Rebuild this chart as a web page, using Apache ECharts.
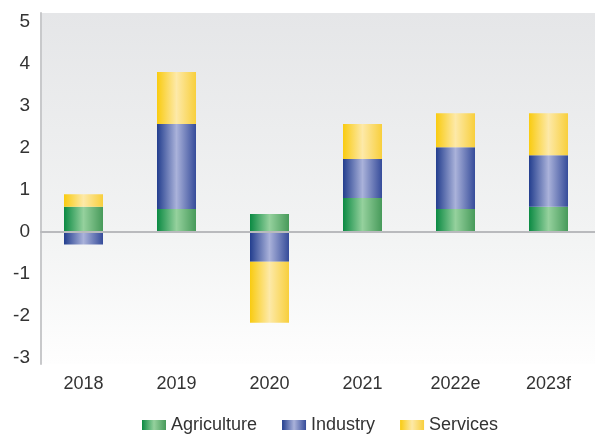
<!DOCTYPE html>
<html>
<head>
<meta charset="utf-8">
<script src="https://cdn.jsdelivr.net/npm/echarts@6/dist/echarts.min.js"></script>
<style>
  html, body { margin: 0; padding: 0; background: #ffffff; }
  #chart { width: 595px; height: 434px; }
</style>
</head>
<body>
<div id="chart"></div>
<script>
// Contribution to growth by sector, percentage points
const years = ['2018', '2019', '2020', '2021', '2022e', '2023f'];
const agriculture = [0.60, 0.55, 0.43, 0.81, 0.55, 0.60];
const industry    = [-0.30, 2.02, -0.71, 0.93, 1.47, 1.23];
const services    = [0.30, 1.24, -1.45, 0.83, 0.81, 1.00];
const yTicks = [-3, -2, -1, 0, 1, 2, 3, 4, 5];

const yMin = -3.143;
const yMax = 5.214;
const FONT = "'Liberation Sans', Arial, sans-serif";
const TEXT = '#333333';

function shade(dark, light, mid) {
  return {
    type: 'linear', x: 0, y: 0, x2: 1, y2: 0,
    colorStops: [
      { offset: 0, color: dark },
      { offset: 0.5, color: light },
      { offset: 1, color: mid }
    ]
  };
}

const palette = {
  Agriculture: shade('#0b8a43', '#95d19d', '#479a5a'),
  Industry: shade('#233e8e', '#aab2da', '#364c9a'),
  Services: shade('#f9cb10', '#fde9a8', '#f8cf3c')
};

function barSeries(name, values) {
  return {
    name: name,
    type: 'bar',
    stack: 'sectors',
    xAxisIndex: 0,
    yAxisIndex: 0,
    barWidth: 39,
    data: values,
    itemStyle: { color: palette[name] },
    emphasis: { disabled: true }
  };
}

const chart = echarts.init(document.getElementById('chart'), null, { renderer: 'canvas' });

chart.setOption({
  animation: false,
  backgroundColor: '#ffffff',
  textStyle: { fontFamily: FONT },
  grid: [
    // bars
    { left: 37, width: 564, top: 13, bottom: 70, containLabel: false },
    // frame: background, left axis, zero line
    {
      left: 41, right: 0, top: 13, bottom: 70, containLabel: false, show: true,
      borderWidth: 0,
      backgroundColor: {
        type: 'linear', x: 0, y: 0, x2: 0, y2: 1,
        colorStops: [
          { offset: 0, color: '#e5e6e8' },
          { offset: 0.62, color: '#f2f3f3' },
          { offset: 1, color: '#fefefe' }
        ]
      }
    }
  ],
  xAxis: [
    {
      gridIndex: 0,
      type: 'category',
      data: years,
      axisLine: { show: false, onZero: false },
      axisTick: { show: false },
      axisLabel: { color: TEXT, fontSize: 18, fontFamily: FONT, margin: 11 }
    },
    {
      gridIndex: 1,
      type: 'category',
      data: years,
      z: 10,
      axisLine: { show: true, onZero: true, lineStyle: { color: '#b9babd', width: 2 } },
      axisTick: { show: false },
      axisLabel: { show: false }
    }
  ],
  yAxis: [
    {
      gridIndex: 0,
      type: 'value',
      min: yMin,
      max: yMax,
      show: false
    },
    {
      gridIndex: 1,
      type: 'value',
      min: yMin,
      max: yMax,
      axisLine: { show: true, lineStyle: { color: '#c8c9cb', width: 2 } },
      axisTick: { show: false },
      splitLine: { show: false },
      axisLabel: {
        customValues: yTicks,
        color: TEXT,
        fontSize: 19,
        fontFamily: FONT,
        margin: 11
      }
    }
  ],
  legend: {
    left: 142,
    top: 416,
    padding: 0,
    itemWidth: 24,
    itemHeight: 10,
    itemGap: 25,
    icon: 'rect',
    data: ['Agriculture', 'Industry', 'Services'],
    textStyle: { color: TEXT, fontSize: 18, fontFamily: FONT }
  },
  series: [
    barSeries('Agriculture', agriculture),
    barSeries('Industry', industry),
    barSeries('Services', services)
  ]
});
</script>
</body>
</html>
